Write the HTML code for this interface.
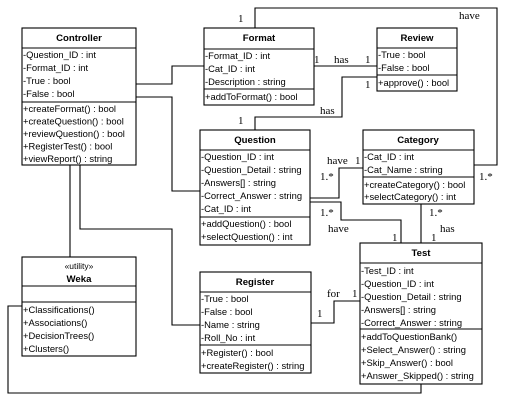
<!DOCTYPE html>
<html><head><meta charset="utf-8"><style>
body{margin:0;background:#fff;}
svg{display:block;font-family:"Liberation Sans",sans-serif;}
.t{font-size:9.4px;}
.b{font-size:9.6px;font-weight:bold;}
.s{font-family:"Liberation Serif",serif;font-size:11px;}
rect{fill:#fff;stroke:#000;stroke-width:1.1}
line,polyline{stroke:#000;stroke-width:1.1;fill:none}
</style></head><body>
<svg width="508" height="403" viewBox="0 0 508 403">
<polyline points="136,84 172,84 172,66 204,66"/>
<polyline points="136,97 172,97 172,191 200,191"/>
<line x1="70" y1="165" x2="70" y2="257"/>
<polyline points="80,165 80,229 172,229 172,325 200,325"/>
<polyline points="22,306 8,306 8,393 421,393 421,384"/>
<polyline points="255,28 255,8 497,8 497,165 474,165"/>
<line x1="314" y1="66" x2="377" y2="66"/>
<polyline points="377,77 342,77 342,117 255,117 255,130"/>
<polyline points="310,198 339,198 339,168 363,168"/>
<polyline points="310,202 341,202 341,220 401,220 401,243"/>
<line x1="421" y1="204" x2="421" y2="243"/>
<polyline points="311,323 334,323 334,301 360,301"/>
<g class="s">
<text x="238" y="22">1</text>
<text x="459" y="19">have</text>
<text x="479" y="180">1.*</text>
<text x="314" y="63">1</text>
<text x="334" y="63">has</text>
<text x="365" y="63">1</text>
<text x="365" y="88">1</text>
<text x="320" y="114">has</text>
<text x="238" y="124">1</text>
<text x="327" y="164">have</text>
<text x="355" y="164">1</text>
<text x="320" y="180">1.*</text>
<text x="320" y="216">1.*</text>
<text x="328" y="232">have</text>
<text x="392" y="241">1</text>
<text x="429" y="216">1.*</text>
<text x="440" y="232">has</text>
<text x="431" y="241">1</text>
<text x="327" y="297">for</text>
<text x="352" y="297">1</text>
<text x="317" y="317">1</text>
</g>
<rect x="22" y="28" width="114" height="137"/>
<line x1="22" y1="48" x2="136" y2="48"/><line x1="22" y1="102" x2="136" y2="102"/>
<text class="b" x="79" y="41" text-anchor="middle">Controller</text>
<g class="t"><text x="23" y="58">-Question_ID : int</text><text x="23" y="71">-Format_ID : int</text><text x="23" y="84">-True : bool</text><text x="23" y="97">-False : bool</text>
<text x="23" y="112">+createFormat() : bool</text><text x="23" y="124.5">+createQuestion() : bool</text><text x="23" y="137">+reviewQuestion() : bool</text><text x="23" y="149.5">+RegisterTest() : bool</text><text x="23" y="162">+viewReport() : string</text></g>
<rect x="204" y="28" width="110" height="77"/>
<line x1="204" y1="49" x2="314" y2="49"/><line x1="204" y1="89" x2="314" y2="89"/>
<text class="b" x="259" y="41" text-anchor="middle">Format</text>
<g class="t"><text x="205" y="59">-Format_ID : int</text><text x="205" y="72">-Cat_ID : int</text><text x="205" y="85">-Description : string</text><text x="205" y="100">+addToFormat() : bool</text></g>
<rect x="377" y="28" width="80" height="63"/>
<line x1="377" y1="48" x2="457" y2="48"/><line x1="377" y1="75" x2="457" y2="75"/>
<text class="b" x="417" y="41" text-anchor="middle">Review</text>
<g class="t"><text x="378" y="58">-True : bool</text><text x="378" y="71">-False : bool</text><text x="378" y="86">+approve() : bool</text></g>
<rect x="200" y="130" width="110" height="115"/>
<line x1="200" y1="150" x2="310" y2="150"/><line x1="200" y1="217" x2="310" y2="217"/>
<text class="b" x="255" y="143" text-anchor="middle">Question</text>
<g class="t"><text x="201" y="160">-Question_ID : int</text><text x="201" y="173">-Question_Detail : string</text><text x="201" y="186">-Answers[] : string</text><text x="201" y="199">-Correct_Answer : string</text><text x="201" y="212">-Cat_ID : int</text>
<text x="201" y="227">+addQuestion() : bool</text><text x="201" y="240">+selectQuestion() : int</text></g>
<rect x="363" y="130" width="111" height="74"/>
<line x1="363" y1="150" x2="474" y2="150"/><line x1="363" y1="177" x2="474" y2="177"/>
<text class="b" x="418" y="143" text-anchor="middle">Category</text>
<g class="t"><text x="364" y="160">-Cat_ID : int</text><text x="364" y="173">-Cat_Name : string</text><text x="364" y="188">+createCategory() : bool</text><text x="364" y="200">+selectCategory() : int</text></g>
<rect x="22" y="257" width="114" height="99"/>
<line x1="22" y1="286" x2="136" y2="286"/><line x1="22" y1="302" x2="136" y2="302"/>
<text class="t" x="79" y="269" text-anchor="middle" style="font-size:8.5px">«utility»</text>
<text class="b" x="79" y="282" text-anchor="middle">Weka</text>
<g class="t"><text x="23" y="313">+Classifications()</text><text x="23" y="326">+Associations()</text><text x="23" y="339">+DecisionTrees()</text><text x="23" y="352">+Clusters()</text></g>
<rect x="200" y="272" width="111" height="101"/>
<line x1="200" y1="292" x2="311" y2="292"/><line x1="200" y1="345" x2="311" y2="345"/>
<text class="b" x="255" y="285" text-anchor="middle">Register</text>
<g class="t"><text x="201" y="302">-True : bool</text><text x="201" y="315">-False : bool</text><text x="201" y="328">-Name : string</text><text x="201" y="341">-Roll_No : int</text><text x="201" y="356">+Register() : bool</text><text x="201" y="369">+createRegister() : string</text></g>
<rect x="360" y="243" width="122" height="141"/>
<line x1="360" y1="263" x2="482" y2="263"/><line x1="360" y1="329" x2="482" y2="329"/>
<text class="b" x="421" y="256" text-anchor="middle">Test</text>
<g class="t"><text x="361" y="274">-Test_ID : int</text><text x="361" y="287">-Question_ID : int</text><text x="361" y="300">-Question_Detail : string</text><text x="361" y="313">-Answers[] : string</text><text x="361" y="326">-Correct_Answer : string</text>
<text x="361" y="340">+addToQuestionBank()</text><text x="361" y="353">+Select_Answer() : string</text><text x="361" y="366">+Skip_Answer() : bool</text><text x="361" y="379">+Answer_Skipped() : string</text></g>
</svg>
</body></html>
